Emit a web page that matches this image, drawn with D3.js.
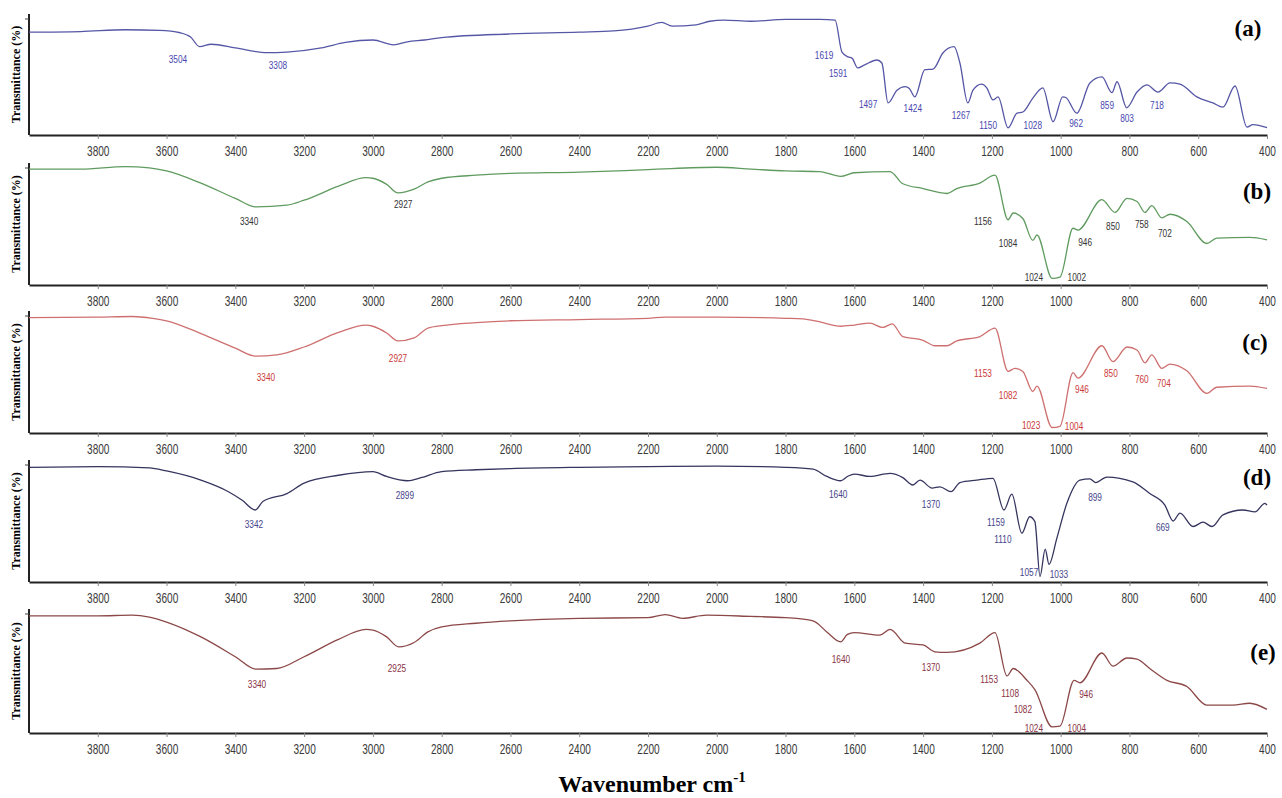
<!DOCTYPE html>
<html>
<head>
<meta charset="utf-8">
<script src="https://cdn.jsdelivr.net/npm/d3@7/dist/d3.min.js"></script>
<style>
  body { margin: 0; background: #fff; }
  svg { display: block; }
</style>
</head>
<body>
<svg id="chart" width="1282" height="798"></svg>
<script>
// wavenumber ticks
const ticks = [3800, 3600, 3400, 3200, 3000, 2800, 2600, 2400, 2200, 2000, 1800, 1600, 1400, 1200, 1000, 800, 600, 400];

// spectra: [wavenumber, transmittance %]
const specA = [[4000,85],[3850,85.5],[3720,87],[3620,86.5],[3560,84.5],[3530,81],[3504,73],[3470,75],[3400,72],[3308,68],[3250,68.5],[3150,72],[3080,76.5],[3000,78.5],[2940,74.5],[2900,77],[2850,78.5],[2800,80.5],[2600,83.5],[2400,85],[2300,86],[2200,90],[2160,93],[2130,90],[2060,91],[2020,94],[1980,95],[1900,94],[1800,95.5],[1700,95.5],[1656,95],[1636,68.5],[1618,64.5],[1607,63.5],[1590,55.5],[1570,58],[1534,62],[1520,59.5],[1502,26.5],[1476,37],[1452,40],[1440,38.5],[1424,31.5],[1395,54],[1371,54.5],[1342,68],[1310,73],[1293,59.5],[1270,26.5],[1255,37],[1230,42],[1215,39],[1197,29],[1182,31.5],[1153,6],[1127,18],[1110,19],[1081,30.5],[1052,39],[1022,11],[994,31.5],[985,31],[953,18],[915,43],[880,48],[851,35],[836,44],[808,22.5],[778,35.5],[749,41.5],[717,35.5],[682,43],[653,42],[604,31.5],[557,26.5],[528,23],[493,40.5],[458,6.5],[441,8.5],[400,6]];
const specB = [[4000,95],[3850,95],[3720,97],[3650,96],[3600,93.5],[3500,83.5],[3400,71],[3340,64],[3250,65.5],[3200,69.5],[3100,81],[3020,88],[3000,87.5],[2960,82.5],[2927,75.5],[2880,78.5],[2840,84.5],[2800,87.5],[2700,90],[2600,91.5],[2400,92.5],[2200,94.5],[2000,96.5],[1900,95],[1800,93.5],[1700,93],[1640,89],[1600,92],[1496,93],[1459,83],[1400,79],[1331,75],[1302,79],[1235,83.5],[1191,90],[1153,53.5],[1138,59],[1110,54.5],[1081,36.5],[1069,41],[1025,5.5],[1002,6.5],[964,46.5],[950,45],[880,70],[842,59.5],[807,71],[778,68.5],[755,59.5],[735,65],[706,55],[682,58],[633,52],[575,34],[546,38.5],[450,39],[400,37]];
const specC = [[4000,94.5],[3800,95],[3700,95.5],[3640,94],[3600,92],[3500,81.5],[3400,69.5],[3340,63],[3280,64],[3200,70.5],[3100,82.5],[3020,88.5],[3000,87.5],[2960,82],[2927,75.5],[2880,78],[2840,86],[2800,88],[2700,90.5],[2600,92],[2400,93],[2200,94],[2150,95],[2000,95],[1800,94],[1750,93.5],[1700,91],[1640,87.5],[1600,88.5],[1555,90],[1517,86.5],[1490,89.5],[1459,79],[1400,76],[1366,71.5],[1331,71.5],[1302,75.5],[1235,79],[1191,86],[1153,50.5],[1133,53],[1110,50.5],[1081,34],[1069,38.5],[1025,4.5],[1002,5.5],[964,49.5],[950,45],[880,71.5],[848,58.5],[807,70.5],[778,68],[755,57.5],[735,64],[706,53],[682,56.5],[633,51],[575,32.5],[546,37.5],[450,38.5],[400,36.5]];
const specD = [[4000,94],[3800,94.5],[3650,93.5],[3600,91],[3500,83.5],[3420,74],[3380,67],[3342,59],[3320,66],[3250,72.5],[3200,81],[3100,87.5],[3000,90.5],[2960,86.5],[2899,83],[2860,85.5],[2800,90.5],[2700,92],[2600,93],[2400,94],[2200,94.5],[2000,95],[1800,94],[1720,92.5],[1680,86.5],[1640,83],[1620,86.5],[1600,88.5],[1555,86.5],[1496,89],[1459,85.5],[1430,79.5],[1409,83.5],[1374,77],[1351,78],[1319,74],[1293,81.5],[1244,83.5],[1197,85],[1165,59],[1142,72],[1113,40],[1090,53.5],[1075,49.5],[1060,4.5],[1045,27],[1034,14.5],[1011,36],[982,64.5],[944,83.5],[915,84.5],[898,81.5],[866,86],[790,82],[741,72.5],[697,63],[673,50],[653,56.5],[615,45.5],[586,49],[560,45.5],[528,55],[470,59],[435,57.5],[406,64.5],[400,63]];
const specE = [[4000,94.5],[3800,94.5],[3700,95],[3650,93.5],[3600,89.5],[3500,77.5],[3400,61.5],[3340,51.5],[3280,52],[3200,61.5],[3100,75.5],[3020,83.5],[3000,83],[2960,77.5],[2925,69.5],[2880,73],[2840,81.5],[2800,85.5],[2700,88.5],[2600,90.5],[2400,92.5],[2200,93],[2150,95.5],[2100,92.5],[2030,95],[1900,94],[1800,93],[1720,90.5],[1680,81.5],[1640,73.5],[1620,79.5],[1600,81],[1526,79],[1496,83.5],[1452,72.5],[1400,71],[1366,65.5],[1331,65],[1235,72.5],[1191,81],[1156,46],[1138,52],[1098,42.5],[1075,35],[1025,5],[1002,5.5],[961,42.5],[944,40.5],[880,64.5],[848,54],[807,60.5],[778,59.5],[741,52],[691,42.5],[633,37.5],[575,22.5],[499,22.5],[450,24],[400,19]];

// peak annotations: [label, wavenumber, transmittance] (text centre)
const peaksA = [["3504",3567,63],["3308",3276,58],["1619",1688,66],["1591",1647,51],["1497",1560,25.5],["1424",1430,22.5],["1267",1290,16.5],["1150",1211,8.5],["1028",1081,8.5],["962",955,10],["859",865,25],["803",807,14],["718",720,25]];
const peaksB = [["3340",3360,52.5],["2927",2912,66.5],["1156",1226,52.5],["1084",1153,34.5],["1024",1078,7],["1002",953,7],["946",929,35.5],["850",848,48.5],["758",764,50.5],["702",697,42.5]];
const peaksC = [["3340",3311,46],["2927",2927,61.5],["1153",1226,49],["1082",1153,31.5],["1023",1086,6.5],["1004",961,5.5],["946",938,36],["850",854,49.5],["760",764,44],["704",700,41]];
const peaksD = [["3342",3346,47.5],["2899",2907,71.5],["1640",1647,72.5],["1370",1377,64],["1159",1188,49.5],["1110",1168,35],["1057",1092,8.5],["1033",1005,7],["899",900,69.5],["669",703,45.5]];
const peaksE = [["3340",3337,40],["2925",2930,52.5],["1640",1639,59.5],["1370",1377,53.5],["1153",1208,43.5],["1108",1147,32.5],["1082",1110,19.5],["1024",1078,4.5],["1004",953,4.5],["946",926,31.5]];

const panelNames = ["(a)", "(b)", "(c)", "(d)", "(e)"];

// layout / style per panel
const panels = [
  {name: panelNames[0], data: specA, peaks: peaksA, top: 14,  bottom: 135, line: "#5656a6", text: "#4848b0", lx: 1248, ly: 36},
  {name: panelNames[1], data: specB, peaks: peaksB, top: 163, bottom: 285, line: "#5f9b5f", text: "#333333", lx: 1257, ly: 199},
  {name: panelNames[2], data: specC, peaks: peaksC, top: 311, bottom: 433, line: "#cf7070", text: "#cc3a3a", lx: 1255, ly: 350},
  {name: panelNames[3], data: specD, peaks: peaksD, top: 460, bottom: 582, line: "#35355f", text: "#45458a", lx: 1257, ly: 485},
  {name: panelNames[4], data: specE, peaks: peaksE, top: 609, bottom: 733, line: "#8c4848", text: "#8a3444", lx: 1263, ly: 660}
];

const svg = d3.select("#chart");
const x = d3.scaleLinear().domain([4000, 400]).range([29, 1267]);

panels.forEach(p => {
  const y = d3.scaleLinear().domain([0, 100]).range([p.bottom, p.top]);
  const g = svg.append("g");

  // x axis
  const ax = g.append("g")
    .attr("transform", `translate(0,${p.bottom})`)
    .call(d3.axisBottom(x).tickValues(ticks).tickSize(4).tickSizeOuter(0).tickPadding(7).tickFormat(d3.format("d")));
  ax.select(".domain").attr("stroke", "#222").attr("stroke-width", 2);
  ax.selectAll(".tick line").attr("stroke", "#888");
  ax.selectAll(".tick text")
    .attr("font-family", "Arial, 'Liberation Sans', sans-serif")
    .attr("font-size", 14)
    .attr("fill", "#3a3a3a")
    .attr("transform", "scale(0.72,1)");

  // y axis line + top tick
  g.append("line").attr("x1", 29).attr("x2", 29).attr("y1", p.top).attr("y2", p.bottom)
    .attr("stroke", "#222").attr("stroke-width", 2);
  g.append("line").attr("x1", 25).attr("x2", 29).attr("y1", p.top + 5).attr("y2", p.top + 5)
    .attr("stroke", "#444").attr("stroke-width", 1);

  g.append("text")
    .attr("transform", `translate(20,${(p.top + p.bottom) / 2}) rotate(-90)`)
    .attr("text-anchor", "middle")
    .attr("font-family", "'Times New Roman', 'Liberation Serif', serif")
    .attr("font-weight", "bold")
    .attr("font-size", 12)
    .text("Transmittance (%)");

  // spectrum
  const line = d3.line().x(d => x(d[0])).y(d => y(d[1])).curve(d3.curveMonotoneX);
  g.append("path").datum(p.data)
    .attr("d", line)
    .attr("fill", "none")
    .attr("stroke", p.line)
    .attr("stroke-width", 1.3);

  // peak labels
  g.selectAll(".peak").data(p.peaks).enter()
    .append("text")
    .attr("class", "peak")
    .attr("transform", d => `translate(${x(d[1])},${y(d[2])}) scale(0.72,1)`)
    .attr("dy", "0.36em")
    .attr("text-anchor", "middle")
    .attr("font-family", "Arial, 'Liberation Sans', sans-serif")
    .attr("font-size", 11.5)
    .attr("fill", p.text)
    .text(d => d[0]);

  // panel letter
  g.append("text")
    .attr("x", p.lx).attr("y", p.ly)
    .attr("text-anchor", "middle")
    .attr("font-family", "'Times New Roman', 'Liberation Serif', serif")
    .attr("font-weight", "bold")
    .attr("font-size", 23)
    .text(p.name);
});

// faint original axis caption, cut by the frame
svg.append("clipPath").attr("id", "cut")
  .append("rect").attr("x", 560).attr("y", 759).attr("width", 160).attr("height", 5);
svg.append("text")
  .attr("clip-path", "url(#cut)")
  .attr("transform", "translate(646,768) scale(0.8,1)")
  .attr("text-anchor", "middle")
  .attr("font-family", "Arial, 'Liberation Sans', sans-serif")
  .attr("font-size", 11)
  .attr("fill", "#999")
  .text("Wavenumber cm-1");

// main x title
const title = svg.append("text")
  .attr("x", 652).attr("y", 792)
  .attr("text-anchor", "middle")
  .attr("font-family", "'Times New Roman', 'Liberation Serif', serif")
  .attr("font-weight", "bold")
  .attr("font-size", 24);
title.append("tspan").text("Wavenumber cm");
title.append("tspan").attr("dy", -10).attr("font-size", 15).text("-1");
</script>
</body>
</html>
